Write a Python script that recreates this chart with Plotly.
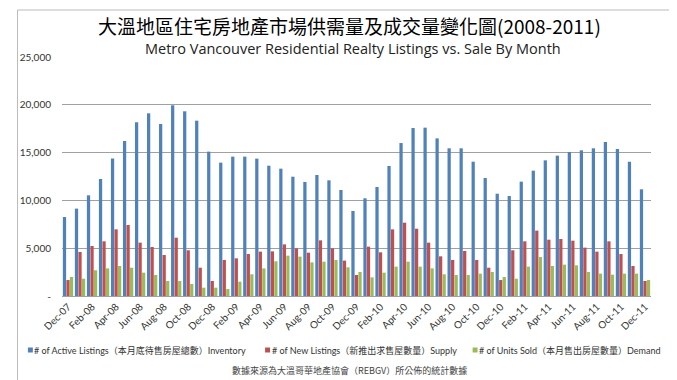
import plotly.graph_objects as go

months = ["Dec-07","Jan-08","Feb-08","Mar-08","Apr-08","May-08","Jun-08","Jul-08","Aug-08","Sep-08","Oct-08","Nov-08",
          "Dec-08","Jan-09","Feb-09","Mar-09","Apr-09","May-09","Jun-09","Jul-09","Aug-09","Sep-09","Oct-09","Nov-09",
          "Dec-09","Jan-10","Feb-10","Mar-10","Apr-10","May-10","Jun-10","Jul-10","Aug-10","Sep-10","Oct-10","Nov-10",
          "Dec-10","Jan-11","Feb-11","Mar-11","Apr-11","May-11","Jun-11","Jul-11","Aug-11","Sep-11","Oct-11","Nov-11",
          "Dec-11"]

active_listings = [8260, 9140, 10530, 12240, 14370, 16220, 18170, 19110, 17990, 19950, 19320, 18340,
                   15100, 13950, 14580, 14580, 14370, 13630, 13320, 12480, 11930, 12660, 12100, 11090,
                   8890, 10220, 11400, 13600, 16000, 17570, 17610, 16490, 15450, 15450, 14050, 12340,
                   10700, 10460, 11960, 13110, 14190, 14680, 15060, 15240, 15450, 16110, 15380, 14050,
                   11160]

new_listings = [1670, 4600, 5230, 5720, 6970, 7430, 5580, 5130, 4290, 6100, 4780, 2960,
                1570, 3770, 3940, 4390, 4640, 4670, 5400, 4990, 4530, 5820, 4990, 3700,
                2200, 5160, 4570, 6970, 7670, 7040, 5580, 4150, 3770, 4710, 3770, 2960,
                1670, 4780, 5720, 6840, 5890, 5960, 5790, 5060, 4640, 5720, 4390, 3140,
                1570]

units_sold = [1990, 1810, 2690, 2890, 3140, 2960, 2440, 2200, 1570, 1570, 1260, 870,
              870, 730, 1500, 2270, 2890, 3630, 4220, 4120, 3520, 3590, 3770, 3000,
              2510, 1950, 2440, 3070, 3590, 3070, 2890, 2270, 2200, 2200, 2340, 2510,
              1990, 1810, 3070, 4080, 3140, 3280, 3210, 2510, 2340, 2230, 2340, 2340,
              1670]

series_names = ["# of Active Listings（本月底待售房屋總數）Inventory",
                "# of New Listings（新推出求售屋數量）Supply",
                "# of Units Sold（本月售出房屋數量）Demand"]
colors = ["#4F81BD", "#C0504D", "#9BBB59"]

ytick_vals = [0, 5000, 10000, 15000, 20000, 25000]
ytick_text = ["-", "5,000", "10,000", "15,000", "20,000", "25,000"]

fig = go.Figure()
for name, vals, c in zip(series_names, [active_listings, new_listings, units_sold], colors):
    fig.add_trace(go.Bar(x=months, y=vals, name=name, showlegend=False,
                         marker=dict(color=c, line=dict(width=0))))

W, H = 677, 380
L, R, T, B = 47, 34, 49, 92
pw, ph = W - L - R, H - T - B

def px(x):
    return (x - L) / pw

def py(y):
    return (H - B - y) / ph

LEGEND_FONT = "Lato, Noto Sans CJK TC, sans-serif"

# manual single-row legend (square + label)
legend_sq_x = [12.5, 252.5, 462.5]
legend_tx_x = [18, 258, 468]
legend_y = 342
shapes = [
    dict(type="rect", xref="paper", yref="paper", x0=px(2), x1=px(674), y0=py(2), y1=py(376),
         line=dict(color="#BBBBBB", width=1), fillcolor="rgba(0,0,0,0)", layer="below"),
]
annotations = [
    dict(text="大溫地區住宅房地產市場供需量及成交量變化圖(2008-2011)", xref="paper", yref="paper",
         x=px(338), y=py(17), xanchor="center", yanchor="middle", showarrow=False,
         font=dict(size=19, color="#000000", family="Noto Sans CJK TC")),
    dict(text="Metro Vancouver Residential Realty Listings vs. Sale By Month", xref="paper", yref="paper",
         x=px(341), y=py(41), xanchor="center", yanchor="middle", showarrow=False,
         font=dict(size=14.5, color="#222222", family="Open Sans")),
    dict(text="數據來源為大溫哥華地產協會（REBGV）所公佈的統計數據", xref="paper", yref="paper",
         x=px(338), y=py(362), xanchor="center", yanchor="middle", showarrow=False,
         font=dict(size=9, color="#444444", family="Noto Sans CJK TC")),
]
for sx, tx, name, c in zip(legend_sq_x, legend_tx_x, series_names, colors):
    shapes.append(dict(type="rect", xref="paper", yref="paper", x0=px(sx), x1=px(sx + 5),
                       y0=py(legend_y + 2.5), y1=py(legend_y - 2.5), fillcolor=c, line=dict(width=0)))
    annotations.append(dict(text=name, xref="paper", yref="paper", x=px(tx), y=py(legend_y),
                            xanchor="left", yanchor="middle", showarrow=False, borderpad=0,
                            font=dict(size=9, color="#333333", family=LEGEND_FONT)))

fig.update_layout(
    width=W, height=H,
    margin=dict(l=L, r=R, t=T, b=B),
    paper_bgcolor="white", plot_bgcolor="white",
    barmode="group", bargap=0.12, bargroupgap=0.08,
    font=dict(family="Noto Sans CJK TC, Noto Sans, sans-serif", color="#333333"),
    showlegend=False,
    xaxis=dict(type="category", tickmode="array", tickvals=months[::2], ticktext=months[::2],
               tickangle=-45, tickfont=dict(size=10, color="#333333", family="Lato, sans-serif"),
               showgrid=False, showline=True, linecolor="#A0A0A0", linewidth=1, ticks=""),
    yaxis=dict(range=[0, 25000], tickmode="array", tickvals=ytick_vals, ticktext=ytick_text,
               tickfont=dict(size=10, color="#333333", family="Lato, sans-serif"), showgrid=True,
               gridcolor="#A0A0A0", gridwidth=1, zeroline=False, showline=False, ticks="",
               ticklabelstandoff=10),
    annotations=annotations,
    shapes=shapes,
)

fig.write_html("out.html")
